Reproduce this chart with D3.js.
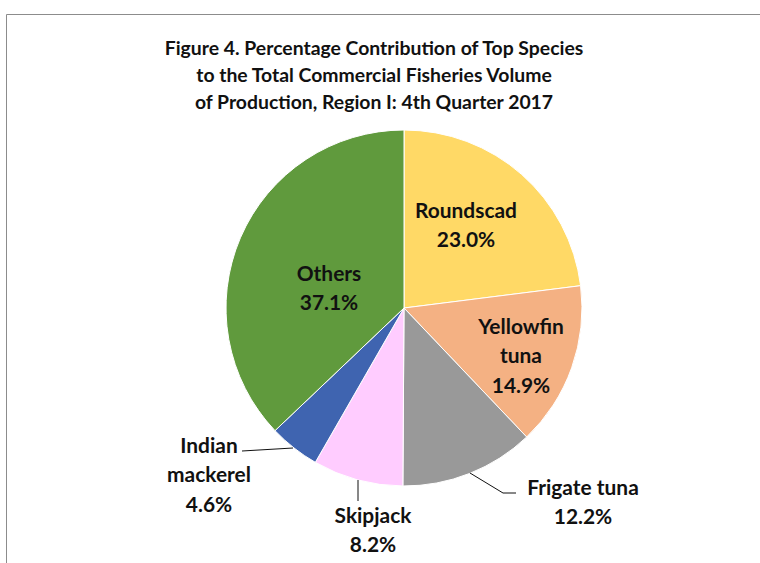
<!DOCTYPE html>
<html>
<head>
<meta charset="utf-8">
<script src="https://cdn.jsdelivr.net/npm/d3@7"></script>
<style>
  body { margin: 0; background: #fff; }
  svg { display: block; }
  text { font-family: Lato, "Open Sans", sans-serif; font-weight: bold; fill: #111; }
</style>
</head>
<body>
<svg width="760" height="563"></svg>
<script>
// data
const species = ['Roundscad', 'Yellowfin tuna', 'Frigate tuna', 'Skipjack', 'Indian mackerel', 'Others'];
const shares = [23.0, 14.9, 12.2, 8.2, 4.6, 37.1];
const labelLines = [['Roundscad'], ['Yellowfin', 'tuna'], ['Frigate tuna'], ['Skipjack'], ['Indian', 'mackerel'], ['Others']];
const titleLines = [
  'Figure 4. Percentage Contribution of Top Species',
  'to the Total Commercial Fisheries Volume',
  'of Production, Region I: 4th Quarter 2017'
];

// styling / layout
const colors = ['#ffd966', '#f4b183', '#999999', '#ffccff', '#3f64b0', '#609a3d'];
// label anchor: centre x, first baseline y
const labelAt = [[466, 218], [521, 334], [583, 495], [373, 523], [209, 453], [329, 281]];
const leaders = [null, null,
  [[470, 473], [503, 493], [516, 493]],
  [[358, 480], [358, 501]],
  [[293, 448], [242, 451]],
  null];

const svg = d3.select('svg');
const cx = 404, cy = 308, radius = 178;

// size a font so that a sample string has the wanted width
function fitSize(sample, target) {
  const t = svg.append('text').style('font-size', '20px').text(sample);
  const w = t.node().getComputedTextLength();
  t.remove();
  return 20 * target / w;
}
const titleSize = fitSize(titleLines[0], 419);
const labelSize = fitSize('Roundscad', 102);

// frame
svg.append('path')
  .attr('d', 'M6.5,563 V14.5 H760')
  .attr('fill', 'none')
  .attr('stroke', '#8c8c8c')
  .attr('stroke-width', 1);

// title
svg.append('text')
  .attr('text-anchor', 'middle')
  .style('font-size', titleSize + 'px')
  .selectAll('tspan')
  .data(titleLines)
  .enter().append('tspan')
  .attr('x', 374)
  .attr('y', (d, i) => 55 + i * 26.8)
  .text(d => d);

const pie = d3.pie().sort(null).value(d => d)
  .startAngle(0).endAngle(2 * Math.PI);
const arc = d3.arc().innerRadius(0).outerRadius(radius);

const g = svg.append('g').attr('transform', `translate(${cx},${cy})`);
g.selectAll('path')
  .data(pie(shares))
  .enter().append('path')
  .attr('d', arc)
  .attr('fill', (d, i) => colors[i])
  .attr('stroke', '#fff')
  .attr('stroke-width', 1);

// leader lines
svg.selectAll('.leader')
  .data(leaders.filter(d => d))
  .enter().append('path')
  .attr('class', 'leader')
  .attr('d', d3.line())
  .attr('fill', 'none')
  .attr('stroke', '#111')
  .attr('stroke-width', 1);

// labels
species.forEach((name, i) => {
  const lines = labelLines[i].concat([shares[i].toFixed(1) + '%']);
  const t = svg.append('text')
    .attr('text-anchor', 'middle')
    .style('font-size', labelSize + 'px');
  lines.forEach((s, k) => {
    t.append('tspan')
      .attr('x', labelAt[i][0])
      .attr('y', labelAt[i][1] + k * 29.3)
      .text(s);
  });
});
</script>
</body>
</html>
